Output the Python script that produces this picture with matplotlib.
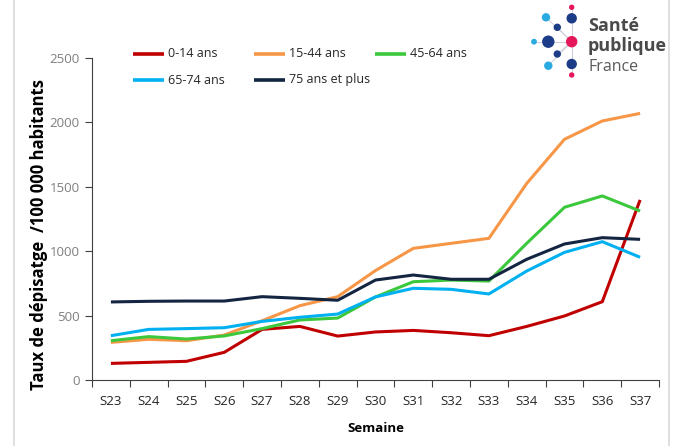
import matplotlib
matplotlib.use("Agg")
import matplotlib.pyplot as plt
from matplotlib.patches import Circle

weeks = ["S23", "S24", "S25", "S26", "S27", "S28", "S29", "S30",
         "S31", "S32", "S33", "S34", "S35", "S36", "S37"]

age_0_14 = [129, 137, 145, 215, 393, 416, 341, 373, 385, 367, 344, 416, 497, 608, 1398]
age_15_44 = [292, 316, 305, 349, 460, 577, 647, 850, 1022, 1061, 1100, 1526, 1869, 2011, 2070]
age_45_64 = [305, 337, 318, 342, 399, 466, 481, 645, 763, 776, 768, 1061, 1341, 1429, 1312]
age_65_74 = [344, 393, 399, 406, 455, 487, 512, 645, 712, 704, 668, 846, 991, 1074, 953]
age_75_plus = [606, 611, 613, 613, 647, 634, 619, 776, 815, 782, 782, 937, 1056, 1105, 1092]

series = [
    ("0-14 ans", age_0_14, "#c00000"),
    ("15-44 ans", age_15_44, "#f79646"),
    ("45-64 ans", age_45_64, "#3cc83c"),
    ("65-74 ans", age_65_74, "#00b0f0"),
    ("75 ans et plus", age_75_plus, "#132541"),
]

plt.rcParams["font.family"] = ["Open Sans", "DejaVu Sans"]

W, H = 684, 446
fig = plt.figure(figsize=(W / 100, H / 100), dpi=100)

# background layer in pixel coordinates: frame lines, legend and logo
bg = fig.add_axes([0, 0, 1, 1], zorder=0)
bg.set_xlim(0, W)
bg.set_ylim(H, 0)
bg.axis("off")
bg.plot([14, 14], [0, H], color="#d9d9d9", lw=1.2)
bg.plot([669, 669], [0, H], color="#d9d9d9", lw=1.2)

navy, lblue, pink = "#1d3c87", "#29abe2", "#e5175a"
cx, cy = 571.7, 41.7
dots = [
    (571.7, 7.3, 2.0, pink), (571.7, 18.3, 4.5, navy), (546, 17.3, 3.5, lblue),
    (557.3, 27.3, 3.0, navy), (534, 41.7, 2.2, lblue), (548.3, 41.7, 5.5, navy),
    (571.7, 41.7, 5.0, pink), (557.3, 54, 3.0, navy), (548.3, 65.7, 3.5, lblue),
    (571.7, 64, 4.5, navy), (571.7, 75, 2.0, pink),
]
for x, y, r, c in dots:
    if (x, y) != (cx, cy):
        bg.plot([cx, x], [cy, y], color="#c8c8d8", lw=0.6, zorder=1)
for x, y, r, c in dots:
    bg.add_patch(Circle((x, y), r, color=c, zorder=2))
bg.text(588, 31, "Santé", fontsize=13, fontweight="bold", color="#4a4a4a",
        va="baseline", ha="left")
bg.text(588, 51, "publique", fontsize=13, fontweight="bold", color="#4a4a4a",
        va="baseline", ha="left")
bg.text(588, 70.7, "France", fontsize=11.5, color="#5a5a5a", va="baseline",
        ha="left")

# legend entries laid out in rows of three
for i, (label, vals, color) in enumerate(series):
    row, col = divmod(i, 3)
    lx = 133 + col * 121
    ly = 53.5 + row * 26.5
    bg.plot([lx, lx + 31], [ly, ly], color=color, lw=2.6, solid_capstyle="butt")
    bg.text(lx + 35, ly, label, fontsize=9, color="#262626", va="center", ha="left")

ax = fig.add_axes([92 / W, 1 - 380 / H, (659 - 92) / W, (380 - 58) / H], zorder=1)
ax.patch.set_alpha(0)

x = list(range(len(weeks)))
for label, vals, color in series:
    ax.plot(x, vals, color=color, lw=2.2, label=label, solid_capstyle="butt")

ax.set_xlim(-0.5, len(weeks) - 0.5)
ax.set_ylim(0, 2500)
ax.set_yticks(range(0, 2501, 500))
ax.set_xticks(x)
ax.set_xticklabels(weeks)
ax.set_xticks([i - 0.5 for i in range(len(weeks) + 1)], minor=True)
ax.tick_params(axis="x", which="major", length=0, pad=11, labelsize=9.5,
               labelcolor="#262626")
ax.tick_params(axis="x", which="minor", length=5, width=0.8, color="#404040")
ax.tick_params(axis="y", length=5, width=0.8, color="#404040", labelsize=9.5,
               labelcolor="#7f7f7f", pad=4)
for s in ("top", "right"):
    ax.spines[s].set_visible(False)
for s in ("left", "bottom"):
    ax.spines[s].set_color("#404040")
    ax.spines[s].set_linewidth(0.8)

ax.set_ylabel("Taux de dépisatge  /100 000 habitants", fontsize=12,
              fontweight="bold", color="#000000")
ax.yaxis.set_label_coords(-0.078, 0.453)
ax.set_xlabel("Semaine", fontsize=9.5, fontweight="bold", color="#000000", labelpad=10)

fig.savefig("out.png", dpi=100)
